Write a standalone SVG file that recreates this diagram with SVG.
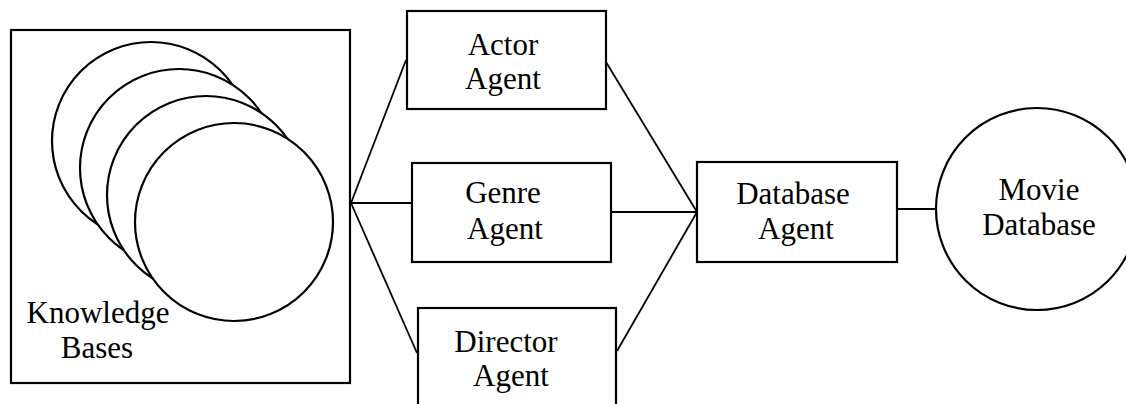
<svg xmlns="http://www.w3.org/2000/svg" width="1126" height="404" viewBox="0 0 1126 404">
<style>
.box{fill:#fff;stroke:#000;stroke-width:2.2}
.ln{fill:none;stroke:#000;stroke-width:1.8}
.t{font-family:"Liberation Serif","Times New Roman",serif;font-size:31px;fill:#000;text-anchor:middle}
</style>
<rect width="1126" height="404" fill="#fff"/>
<g id="knowledge-bases">
<rect class="box" x="11" y="30" width="339" height="353"/>
<circle class="box" cx="151" cy="141" r="99"/>
<circle class="box" cx="179" cy="168" r="99"/>
<circle class="box" cx="206" cy="195" r="99"/>
<circle class="box" cx="234" cy="222" r="99"/>
<text class="t" x="98" y="323">Knowledge</text>
<text class="t" x="97" y="358">Bases</text>
</g>
<g id="connectors">
<line class="ln" x1="351" y1="203" x2="406" y2="60"/>
<line class="ln" x1="351" y1="203" x2="412" y2="203"/>
<line class="ln" x1="351" y1="203" x2="417" y2="353"/>
<line class="ln" x1="606" y1="62" x2="697" y2="212"/>
<line class="ln" x1="611" y1="212" x2="697" y2="212"/>
<line class="ln" x1="617" y1="351" x2="697" y2="212"/>
<line class="ln" x1="897" y1="209" x2="936" y2="209"/>
</g>
<g id="actor-agent">
<rect class="box" x="407" y="11" width="199" height="98"/>
<text class="t" x="503" y="55">Actor</text>
<text class="t" x="503" y="89">Agent</text>
</g>
<g id="genre-agent">
<rect class="box" x="412" y="163" width="199" height="99"/>
<text class="t" x="503" y="203">Genre</text>
<text class="t" x="505" y="239">Agent</text>
</g>
<g id="director-agent">
<rect class="box" x="418" y="308" width="198" height="100"/>
<text class="t" x="506" y="352">Director</text>
<text class="t" x="511" y="386">Agent</text>
</g>
<g id="database-agent">
<rect class="box" x="697" y="162" width="200" height="100"/>
<text class="t" x="793" y="204">Database</text>
<text class="t" x="796" y="239">Agent</text>
</g>
<g id="movie-database">
<circle class="box" cx="1037" cy="209" r="101"/>
<text class="t" x="1039" y="200">Movie</text>
<text class="t" x="1039" y="235">Database</text>
</g>
</svg>
